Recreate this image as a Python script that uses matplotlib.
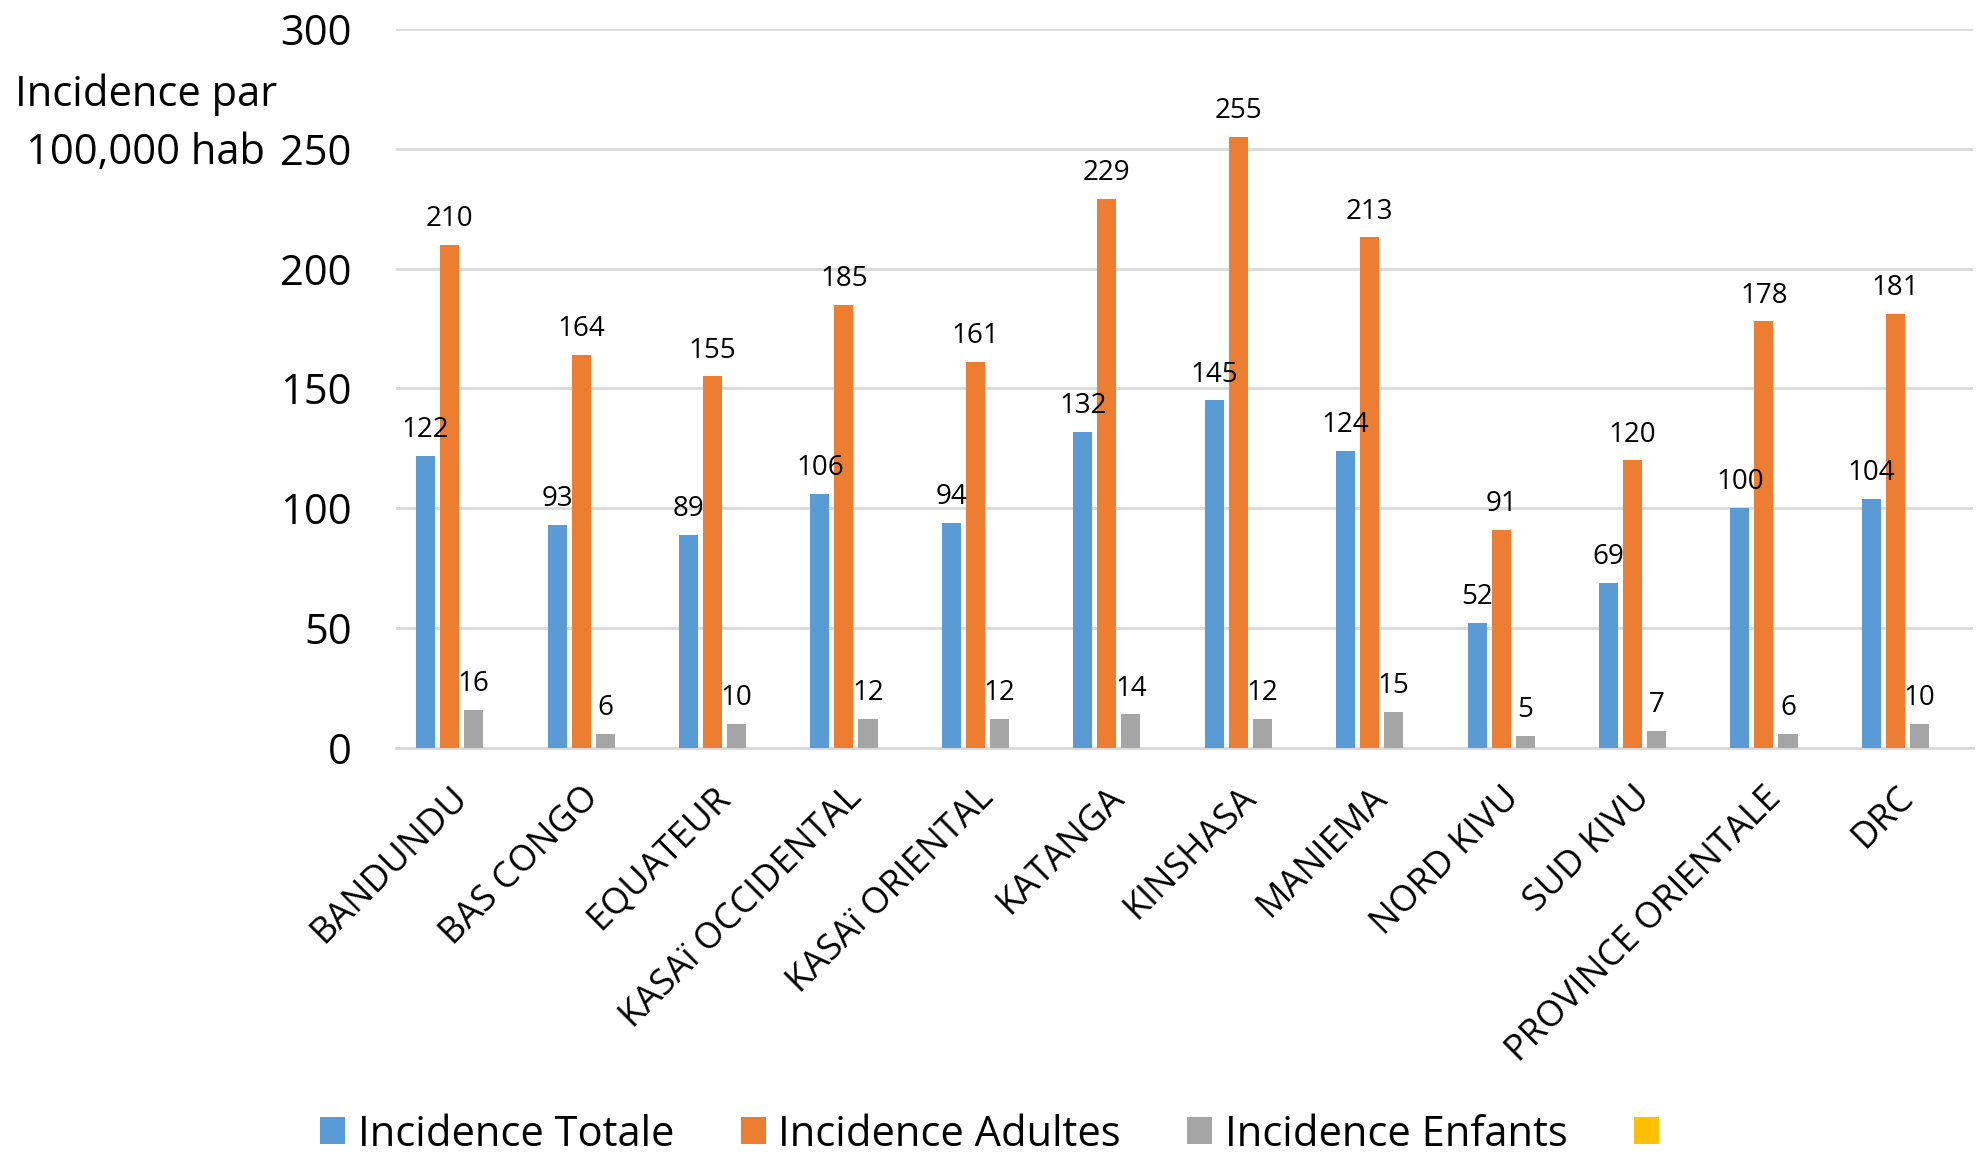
import matplotlib
matplotlib.use("Agg")
import matplotlib.pyplot as plt
import matplotlib.transforms as mtransforms
from matplotlib.patches import Patch
import numpy as np

plt.rcParams['font.family'] = ['Open Sans', 'DejaVu Sans']

regions = ["BANDUNDU", "BAS CONGO", "EQUATEUR", "KASAï OCCIDENTAL", "KASAï ORIENTAL",
           "KATANGA", "KINSHASA", "MANIEMA", "NORD KIVU", "SUD KIVU",
           "PROVINCE ORIENTALE", "DRC"]
incidence_totale = [122, 93, 89, 106, 94, 132, 145, 124, 52, 69, 100, 104]
incidence_adultes = [210, 164, 155, 185, 161, 229, 255, 213, 91, 120, 178, 181]
incidence_enfants = [16, 6, 10, 12, 12, 14, 12, 15, 5, 7, 6, 10]
series_names = ["Incidence Totale", "Incidence Adultes", "Incidence Enfants", ""]
yticks = [0, 50, 100, 150, 200, 250, 300]

colors = ["#5B9BD5", "#ED7D31", "#A5A5A5", "#FFC000"]

fig = plt.figure(figsize=(19.86, 11.56), dpi=100)
ax = fig.add_axes([0.1994, 0.353, 0.7941, 0.622])

x = np.arange(len(regions))
step = 0.183
width = 0.145
series = [incidence_totale, incidence_adultes, incidence_enfants]
for i, vals in enumerate(series):
    pos = x + (i - 1.5) * step
    ax.bar(pos, vals, width=width, color=colors[i], zorder=3)
    for px, v in zip(pos, vals):
        ax.annotate(str(v), (px, v), xytext=(0, 8.5), textcoords="offset points",
                    ha="center", va="bottom", fontsize=20, zorder=6)

ax.set_xlim(-0.5, len(regions) - 0.5)
ax.set_ylim(0, 300)
ax.set_yticks(yticks)
ax.set_yticklabels([str(t) for t in yticks], fontsize=30)
ax.yaxis.grid(True, color="#D9D9D9", linewidth=2, zorder=0)
ax.set_axisbelow(True)
for s in ["top", "right", "left"]:
    ax.spines[s].set_visible(False)
ax.spines["bottom"].set_color("#D9D9D9")
ax.spines["bottom"].set_linewidth(2)
ax.tick_params(axis="y", length=0, pad=32)
ax.tick_params(axis="x", length=0, pad=23)

ax.set_xticks(x)
ax.set_xticklabels(regions, rotation=45, ha="right", rotation_mode="anchor", fontsize=26)
shift = mtransforms.ScaledTranslation(-12 / 100, 0, fig.dpi_scale_trans)
for lbl in ax.get_xticklabels():
    lbl.set_transform(lbl.get_transform() + shift)

fig.text(146 / 1986, 1 - 95 / 1156, "Incidence par", ha="center", va="center", fontsize=30)
fig.text(146 / 1986, 1 - 153 / 1156, "100,000 hab", ha="center", va="center", fontsize=30)

handles = [Patch(facecolor=c) for c in colors]
fig.legend(handles, series_names, loc="center", bbox_to_anchor=(0.5015, 0.0185), ncol=4,
           frameon=False, fontsize=30, handlelength=0.6, handleheight=0.62,
           handletextpad=0.3, columnspacing=1.6)

fig.savefig("out.png", dpi=100)
